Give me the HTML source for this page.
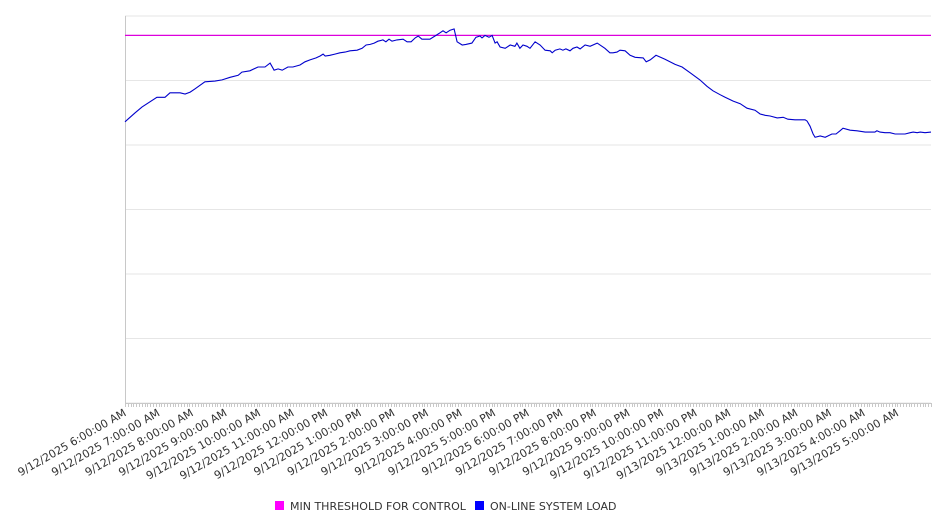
<!DOCTYPE html>
<html><head><meta charset="utf-8"><style>
html,body{margin:0;padding:0;background:#fff;}
svg{display:block;font-family:"DejaVu Sans","Liberation Sans",sans-serif;}
</style></head><body>
<svg id="chart" width="946" height="526" viewBox="0 0 946 526" xmlns="http://www.w3.org/2000/svg">
<g id="grid"></g>
<g id="xaxis"></g>
<g id="series"></g>
<g id="legend">
  <g>
    <rect x="275" y="501" width="9" height="9" fill="#ff00ff"></rect>
    <text x="290" y="510" font-size="11" fill="#333">MIN THRESHOLD FOR CONTROL</text>
  </g>
  <g>
    <rect x="475" y="501" width="9" height="9" fill="#0000ff"></rect>
    <text x="490" y="510" font-size="11" fill="#333">ON-LINE SYSTEM LOAD</text>
  </g>
</g>
</svg>
<script>
const tickLabels = ["9/12/2025 6:00:00 AM","9/12/2025 7:00:00 AM","9/12/2025 8:00:00 AM","9/12/2025 9:00:00 AM","9/12/2025 10:00:00 AM","9/12/2025 11:00:00 AM","9/12/2025 12:00:00 PM","9/12/2025 1:00:00 PM","9/12/2025 2:00:00 PM","9/12/2025 3:00:00 PM","9/12/2025 4:00:00 PM","9/12/2025 5:00:00 PM","9/12/2025 6:00:00 PM","9/12/2025 7:00:00 PM","9/12/2025 8:00:00 PM","9/12/2025 9:00:00 PM","9/12/2025 10:00:00 PM","9/12/2025 11:00:00 PM","9/13/2025 12:00:00 AM","9/13/2025 1:00:00 AM","9/13/2025 2:00:00 AM","9/13/2025 3:00:00 AM","9/13/2025 4:00:00 AM","9/13/2025 5:00:00 AM"];
const yTicks = [0,100,200,300,400,500,600];
const thresholdValue = 570;
const loadHours = [0,0.30,0.51,0.95,1.19,1.34,1.49,1.64,1.79,1.94,2.08,2.38,2.68,2.89,3.13,3.37,3.48,3.72,3.96,4.17,4.32,4.44,4.56,4.68,4.85,5.00,5.21,5.36,5.51,5.69,5.81,5.90,5.96,6.10,6.25,6.40,6.55,6.70,6.91,7.06,7.18,7.30,7.42,7.53,7.68,7.77,7.86,7.95,8.10,8.28,8.40,8.52,8.64,8.73,8.84,9.08,9.23,9.38,9.47,9.56,9.68,9.80,9.89,10.04,10.15,10.33,10.45,10.57,10.63,10.72,10.84,10.93,11.02,11.08,11.17,11.32,11.47,11.61,11.67,11.76,11.85,11.97,12.06,12.21,12.36,12.51,12.66,12.72,12.81,12.95,13.04,13.13,13.25,13.34,13.46,13.55,13.70,13.85,14.06,14.29,14.44,14.53,14.65,14.74,14.89,15.04,15.19,15.43,15.52,15.64,15.81,16.08,16.38,16.59,16.83,17.12,17.33,17.51,17.72,17.87,18.11,18.32,18.52,18.76,18.91,19.06,19.21,19.42,19.60,19.74,19.95,20.25,20.31,20.40,20.49,20.55,20.70,20.85,21.05,21.17,21.29,21.38,21.59,21.80,22.04,22.33,22.39,22.48,22.63,22.78,22.93,23.23,23.38,23.47,23.59,23.68,23.82,24];
const loadValues = [436,450,459,474,474,481,481,481,479,482,487,498,499,501,505,508,513,515,521,521,527,516,518,516,521,521,524,529,532,535,538,541,538,539,541,543,544,546,547,550,555,556,558,561,563,560,564,561,563,564,560,560,566,569,564,564,569,574,577,574,578,580,560,555,556,558,567,569,566,570,567,570,558,560,552,550,555,553,558,550,555,553,550,560,555,547,546,543,547,549,547,549,546,550,552,549,555,553,558,550,543,543,544,547,546,539,536,535,529,532,539,533,525,521,512,501,491,484,478,474,468,464,457,454,448,446,445,442,443,440,439,439,437,429,417,412,414,412,417,417,422,426,423,422,420,420,422,420,419,419,417,417,419,420,419,420,419,420];

const NS="http://www.w3.org/2000/svg";
const L=125,R=931,T=16,B=403, H0=0,H1=24, V0=0,V1=600;
const xs=h=>L+(h-H0)/(H1-H0)*(R-L);
const ys=v=>B-(v-V0)/(V1-V0)*(B-T);
function mk(tag,attrs,parent){const e=document.createElementNS(NS,tag);for(const k in attrs)e.setAttribute(k,attrs[k]);parent.appendChild(e);return e;}

const grid=document.getElementById('grid');
yTicks.forEach(v=>{
  const ln=mk('line',{x1:L,x2:R,y1:ys(v),y2:ys(v),stroke:'#e6e6e6','stroke-width':1},grid);
  
  
});
const xa=document.getElementById('xaxis');
const yl=mk('line',{x1:L+0.5,x2:L+0.5,y1:T,y2:B,stroke:'#c8c8c8','stroke-width':1},xa);


const xl=mk('line',{x1:L,x2:R,y1:B+0.5,y2:B+0.5,stroke:'#c8c8c8','stroke-width':1},xa);


for(let m=0;m<=24*60;m+=5){
  const x=Math.round(xs(m/60))+0.5;
  const t=mk('line',{x1:x,x2:x,y1:B,y2:B+4,stroke:'#c8c8c8','stroke-width':1},xa);
  
  
}
tickLabels.forEach((s,i)=>{
  const x=xs(i)+2,y=B+12;
  const t=mk('text',{x:x,y:y,'text-anchor':'end','font-size':11,fill:'#333',transform:`rotate(-30 ${x} ${y})`},xa);
  t.textContent=s;
  
  
});
const se=document.getElementById('series');
const th=mk('line',{x1:L,x2:R,y1:ys(thresholdValue),y2:ys(thresholdValue),stroke:'#dd00dd','stroke-width':1.2},se);


const pts=loadHours.map((h,i)=>xs(h).toFixed(1)+','+ys(loadValues[i]).toFixed(1)).join(' ');
const pl=mk('polyline',{points:pts,fill:'none',stroke:'#0000cc','stroke-width':1.1},se);


</script>
</body></html>
